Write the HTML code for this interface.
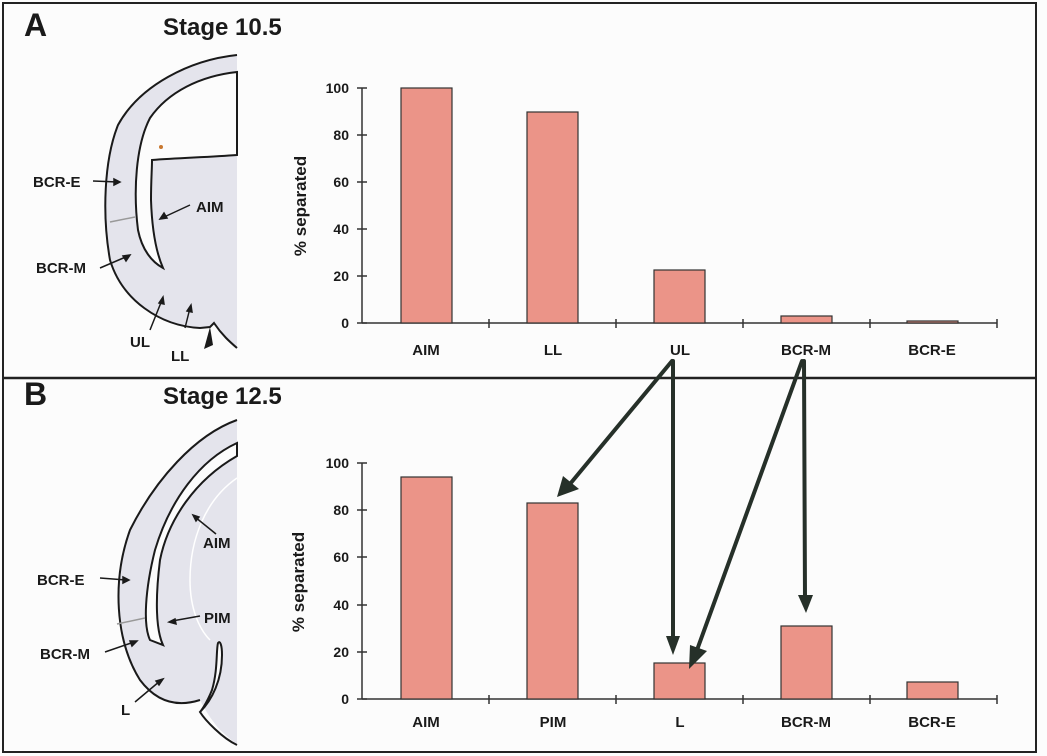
<!DOCTYPE html>
<html><head><meta charset="utf-8"><style>
html,body{margin:0;padding:0;background:#fff}
svg{display:block}
text{font-family:"Liberation Sans",Arial,sans-serif;font-weight:bold;fill:#1a1a1a}
</style></head><body>
<svg width="1047" height="756" viewBox="0 0 1047 756" xmlns="http://www.w3.org/2000/svg">
<rect x="0" y="0" width="1047" height="756" fill="#fcfcfc"/>
<rect x="3" y="3" width="1033" height="749" fill="none" stroke="#222" stroke-width="2"/>
<line x1="3" y1="378" x2="1036" y2="378" stroke="#222" stroke-width="2.5"/>

<!-- Panel A illustration -->
<text x="24" y="36" font-size="32">A</text>
<text x="163" y="35" font-size="24">Stage 10.5</text>
<path d="M237,55 C190,60 140,85 118,125 C104,160 102,215 110,260 C122,300 160,326 200,328 L210,327 L214,323 C222,335 230,342 237,348 Z" fill="#e4e4ec"/>
<path d="M237,55 C190,60 140,85 118,125 C104,160 102,215 110,260 C122,300 160,326 200,328 L210,327 L214,323 C222,335 230,342 237,348" fill="none" stroke="#1a1a1a" stroke-width="2"/>
<path d="M237,72 C200,76 168,92 150,118 C136,145 133,190 138,230 C142,250 152,262 163,268 C156,252 152,230 151,200 C151,180 152,170 152,160 C180,158 210,157 237,155 Z" fill="#fcfcfc" stroke="#1a1a1a" stroke-width="2"/>
<line x1="110" y1="222" x2="135" y2="217" stroke="#999" stroke-width="1.5"/>
<circle cx="161" cy="147" r="2" fill="#c87830"/>
<path d="M210,327 L204,349 L213,345 Z" fill="#1a1a1a"/>
<g font-size="15">
<text x="33" y="187">BCR-E</text>
<text x="36" y="273">BCR-M</text>
<text x="196" y="212">AIM</text>
<text x="130" y="347">UL</text>
<text x="171" y="361">LL</text>
</g>
<g stroke="#1a1a1a" stroke-width="1.5" fill="#1a1a1a">
<line x1="93" y1="181" x2="118" y2="182"/><path d="M120,182 l-6,-3 l0,6z"/>
<line x1="190" y1="205" x2="162" y2="218"/><path d="M160,219 l7,-1 l-3,-5z"/>
<line x1="100" y1="268" x2="128" y2="256"/><path d="M130,255 l-7,1 l3,5z"/>
<line x1="150" y1="330" x2="162" y2="300"/><path d="M163,297 l-4,6 l5,1z"/>
<line x1="185" y1="328" x2="190" y2="308"/><path d="M191,305 l-4,6 l5,1z"/>
</g>

<!-- Panel B illustration -->
<text x="24" y="405" font-size="32">B</text>
<text x="163" y="404" font-size="24">Stage 12.5</text>
<path d="M237,420 C195,435 155,480 130,530 C112,580 115,640 140,680 C155,700 175,708 200,700 C210,720 225,738 237,745 Z" fill="#e4e4ec"/>
<path d="M237,420 C195,435 155,480 130,530 C112,580 115,640 140,680 C155,700 175,708 200,700" fill="none" stroke="#1a1a1a" stroke-width="2"/>
<path d="M237,443 C200,460 170,500 155,550 C145,590 143,625 150,640 L163,645 C156,630 155,600 160,560 C168,520 195,480 237,456 Z" fill="#fcfcfc" stroke="#1a1a1a" stroke-width="2"/>
<path d="M237,478 C205,500 190,540 190,580 C190,610 200,630 210,640" fill="none" stroke="#fff" stroke-width="1.5"/>
<path d="M237,745 C222,738 205,720 200,712 C212,700 222,680 222,655 C222,645 220,640 218,643 C216,650 218,670 212,690 C206,705 200,712 200,712" fill="#fcfcfc" stroke="#1a1a1a" stroke-width="2"/>
<line x1="117" y1="624" x2="145" y2="618" stroke="#999" stroke-width="1.5"/>
<g font-size="15">
<text x="37" y="585">BCR-E</text>
<text x="40" y="659">BCR-M</text>
<text x="203" y="548">AIM</text>
<text x="204" y="623">PIM</text>
<text x="121" y="715">L</text>
</g>
<g stroke="#1a1a1a" stroke-width="1.5" fill="#1a1a1a">
<line x1="100" y1="578" x2="126" y2="580"/><path d="M129,580 l-6,-3 l0,6z"/>
<line x1="216" y1="534" x2="195" y2="517"/><path d="M193,515 l3,6 l3,-4z"/>
<line x1="200" y1="616" x2="172" y2="621"/><path d="M169,622 l7,2 l-1,-5z"/>
<line x1="105" y1="652" x2="134" y2="642"/><path d="M137,641 l-7,0 l2,5z"/>
<line x1="135" y1="702" x2="160" y2="681"/><path d="M163,679 l-7,2 l3,4z"/>
</g>

<!-- Chart A -->
<g stroke="#333" stroke-width="1.5">
<line x1="362" y1="88" x2="362" y2="323"/>
<line x1="362" y1="323" x2="997" y2="323"/>
<line x1="357" y1="88" x2="367" y2="88"/><line x1="357" y1="135" x2="367" y2="135"/>
<line x1="357" y1="182" x2="367" y2="182"/><line x1="357" y1="229" x2="367" y2="229"/>
<line x1="357" y1="276" x2="367" y2="276"/><line x1="357" y1="323" x2="367" y2="323"/>
<line x1="489" y1="319" x2="489" y2="328"/><line x1="616" y1="319" x2="616" y2="328"/>
<line x1="743" y1="319" x2="743" y2="328"/><line x1="870" y1="319" x2="870" y2="328"/>
<line x1="997" y1="319" x2="997" y2="328"/>
</g>
<g font-size="14" text-anchor="end">
<text x="349" y="93">100</text><text x="349" y="140">80</text><text x="349" y="187">60</text>
<text x="349" y="234">40</text><text x="349" y="281">20</text><text x="349" y="328">0</text>
</g>
<text transform="translate(306,206) rotate(-90)" font-size="17" text-anchor="middle">% separated</text>
<g fill="#eb9488" stroke="#333" stroke-width="1.2">
<rect x="401" y="88" width="51" height="235"/>
<rect x="527" y="112" width="51" height="211"/>
<rect x="654" y="270" width="51" height="53"/>
<rect x="781" y="316" width="51" height="7"/>
<rect x="907" y="321" width="51" height="2"/>
</g>
<g font-size="15" text-anchor="middle">
<text x="426" y="355">AIM</text><text x="553" y="355">LL</text><text x="680" y="355">UL</text>
<text x="806" y="355">BCR-M</text><text x="932" y="355">BCR-E</text>
</g>

<!-- Chart B -->
<g stroke="#333" stroke-width="1.5">
<line x1="362" y1="463" x2="362" y2="699"/>
<line x1="362" y1="699" x2="997" y2="699"/>
<line x1="357" y1="463" x2="367" y2="463"/><line x1="357" y1="510" x2="367" y2="510"/>
<line x1="357" y1="557" x2="367" y2="557"/><line x1="357" y1="605" x2="367" y2="605"/>
<line x1="357" y1="652" x2="367" y2="652"/><line x1="357" y1="699" x2="367" y2="699"/>
<line x1="489" y1="695" x2="489" y2="704"/><line x1="616" y1="695" x2="616" y2="704"/>
<line x1="743" y1="695" x2="743" y2="704"/><line x1="870" y1="695" x2="870" y2="704"/>
<line x1="997" y1="695" x2="997" y2="704"/>
</g>
<g font-size="14" text-anchor="end">
<text x="349" y="468">100</text><text x="349" y="515">80</text><text x="349" y="562">60</text>
<text x="349" y="610">40</text><text x="349" y="657">20</text><text x="349" y="704">0</text>
</g>
<text transform="translate(304,582) rotate(-90)" font-size="17" text-anchor="middle">% separated</text>
<g fill="#eb9488" stroke="#333" stroke-width="1.2">
<rect x="401" y="477" width="51" height="222"/>
<rect x="527" y="503" width="51" height="196"/>
<rect x="654" y="663" width="51" height="36"/>
<rect x="781" y="626" width="51" height="73"/>
<rect x="907" y="682" width="51" height="17"/>
</g>
<g font-size="15" text-anchor="middle">
<text x="426" y="727">AIM</text><text x="553" y="727">PIM</text><text x="680" y="727">L</text>
<text x="806" y="727">BCR-M</text><text x="932" y="727">BCR-E</text>
</g>

<!-- Arrows -->
<g stroke="#263029" stroke-width="4" fill="none" stroke-linecap="round">
<line x1="672" y1="361" x2="570" y2="484"/>
<line x1="673" y1="361" x2="673" y2="648"/>
<line x1="802" y1="361" x2="697" y2="650"/>
<line x1="804" y1="361" x2="805" y2="600"/>
</g>
<g fill="#263029">
<path d="M557,497 L563,476 L579,489 Z"/>
<path d="M673,655 L666,636 L680,636 Z"/>
<path d="M689,669 L690,645 L707,651 Z"/>
<path d="M806,613 L798,595 L813,595 Z"/>
</g>
</svg>
</body></html>
